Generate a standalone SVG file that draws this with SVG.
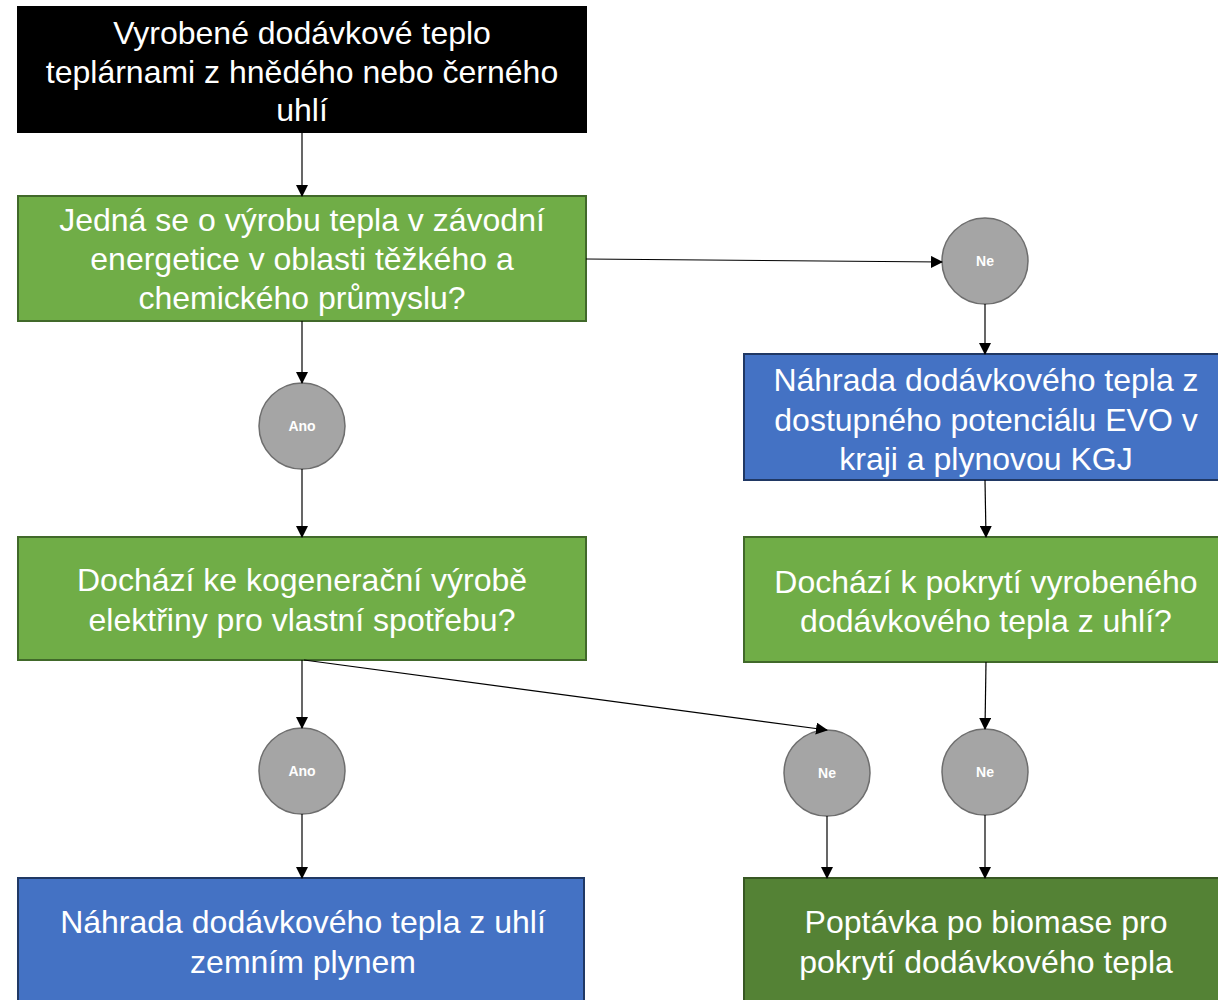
<svg xmlns="http://www.w3.org/2000/svg" width="1218" height="1000" viewBox="0 0 1218 1000">
<style>
.box text{font-family:"Liberation Sans",Arial,sans-serif;font-size:32px;fill:#fff;text-anchor:middle}
.c text{font-family:"Liberation Sans",Arial,sans-serif;font-size:14px;font-weight:bold;fill:#fff;text-anchor:middle}
.c circle{fill:#a5a5a5;stroke:#6e6e6e;stroke-width:1.5}
.g{fill:#70ad47;stroke:#41692a;stroke-width:2}
.b{fill:#4472c4;stroke:#203864;stroke-width:2}
.dg{fill:#548235;stroke:#385723;stroke-width:2}
.k{fill:#000;stroke:#000;stroke-width:2}
#connectors line{stroke:#000;stroke-width:1.2;marker-end:url(#ah)}
</style>
<defs>
<marker id="ah" markerWidth="12" markerHeight="12" refX="11" refY="6" orient="auto" markerUnits="userSpaceOnUse">
<path d="M0,0 L12,6 L0,12 Z" fill="#000"/>
</marker>
</defs>
<rect width="1218" height="1000" fill="#fff"/>
<g id="n_top" class="box">
<rect class="k" x="18" y="7" width="568" height="125"/>
<text x="302" y="44">Vyrobené dodávkové teplo</text>
<text x="302" y="83">teplárnami z hnědého nebo černého</text>
<text x="302" y="121">uhlí</text>
</g>
<g id="n_q1" class="box">
<rect class="g" x="18" y="196" width="568" height="125"/>
<text x="302" y="231">Jedná se o výrobu tepla v závodní</text>
<text x="302" y="270">energetice v oblasti těžkého a</text>
<text x="302" y="309">chemického průmyslu?</text>
</g>
<g id="n_ne1" class="c"><circle cx="985" cy="261" r="43"/><text x="985" y="266">Ne</text></g>
<g id="n_ano1" class="c"><circle cx="302" cy="426" r="43"/><text x="302" y="431">Ano</text></g>
<g id="n_evo" class="box">
<rect class="b" x="744" y="354" width="484" height="126"/>
<text x="986" y="391">Náhrada dodávkového tepla z</text>
<text x="986" y="431">dostupného potenciálu EVO v</text>
<text x="986" y="470">kraji a plynovou KGJ</text>
</g>
<g id="n_q2" class="box">
<rect class="g" x="18" y="537" width="568" height="123"/>
<text x="302" y="591">Dochází ke kogenerační výrobě</text>
<text x="302" y="631">elektřiny pro vlastní spotřebu?</text>
</g>
<g id="n_q3" class="box">
<rect class="g" x="744" y="537" width="484" height="125"/>
<text x="986" y="593">Dochází k pokrytí vyrobeného</text>
<text x="986" y="632">dodávkového tepla z uhlí?</text>
</g>
<g id="n_ano2" class="c"><circle cx="302" cy="771" r="43"/><text x="302" y="776">Ano</text></g>
<g id="n_ne2" class="c"><circle cx="827" cy="773" r="43"/><text x="827" y="778">Ne</text></g>
<g id="n_ne3" class="c"><circle cx="985" cy="772" r="43"/><text x="985" y="777">Ne</text></g>
<g id="n_plyn" class="box">
<rect class="b" x="18" y="878" width="566" height="130"/>
<text x="303" y="933">Náhrada dodávkového tepla z uhlí</text>
<text x="303" y="973">zemním plynem</text>
</g>
<g id="n_bio" class="box">
<rect class="dg" x="744" y="878" width="484" height="130"/>
<text x="986" y="933">Poptávka po biomase pro</text>
<text x="986" y="973">pokrytí dodávkového tepla</text>
</g>
<g id="connectors">
<line x1="302" y1="132" x2="302" y2="196"/>
<line x1="586" y1="259" x2="942" y2="262"/>
<line x1="302" y1="321" x2="302" y2="383"/>
<line x1="302" y1="469" x2="302" y2="537"/>
<line x1="985" y1="304" x2="985" y2="354"/>
<line x1="985" y1="480" x2="986" y2="537"/>
<line x1="302" y1="660" x2="302" y2="728"/>
<line x1="304" y1="660" x2="827" y2="730"/>
<line x1="986" y1="662" x2="985" y2="729"/>
<line x1="302" y1="814" x2="302" y2="878"/>
<line x1="827" y1="816" x2="827" y2="878"/>
<line x1="985" y1="815" x2="985" y2="878"/>
</g>
</svg>
